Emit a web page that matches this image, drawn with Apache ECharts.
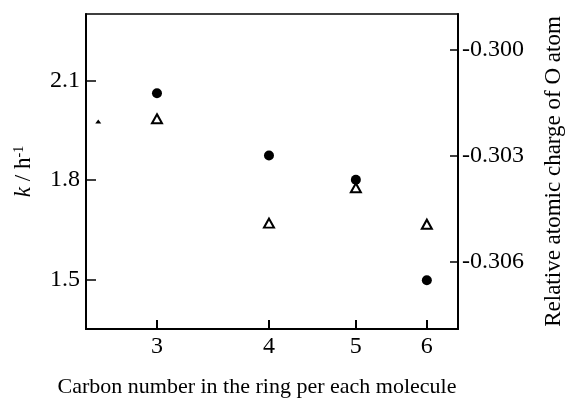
<!DOCTYPE html>
<html>
<head>
    <meta charset="UTF-8">
    <title>k vs carbon number</title>
    <style>
        body, html { margin: 0; padding: 0; background: #fff; }
        #container { width: 573px; height: 403px; }
    </style>
</head>
<body>
<div id="container"></div>
<script src="https://cdn.jsdelivr.net/npm/echarts@6/dist/echarts.min.js"></script>
<script>
    // carbon number (log-spaced axis in the original)
    var carbonNumber = [3, 4, 5, 6];
    var xTicks = [3, 4, 5, 6];

    // rate constant k / h^-1 (filled circles, left axis)
    var rateK = [2.061, 1.873, 1.80, 1.497];
    var kTicks = [1.5, 1.8, 2.1];

    // relative atomic charge of O atom (open triangles, right axis)
    // first point sits at the left border, half hidden
    var chargeX = [2.58, 3, 4, 5, 6];
    var chargeO = [-0.30204, -0.30196, -0.30491, -0.30391, -0.30494];
    var chargeTicks = [-0.306, -0.303, -0.300];

    var FONT = 'Liberation Serif';

    function buildChart() {
        var echart = echarts.init(document.getElementById('container'));

        var circles = [];
        for (var i = 0; i < carbonNumber.length; i++) {
            circles.push([carbonNumber[i], rateK[i]]);
        }
        var triangles = [];
        for (var j = 0; j < chargeX.length; j++) {
            var item = {value: [chargeX[j], chargeO[j]]};
            if (j === 0) {
                // the clipped marker at the frame edge
                item.symbolSize = [6, 4];
                item.itemStyle = {color: '#000', borderWidth: 0};
            }
            triangles.push(item);
        }

        var option = {
            animation: false,
            textStyle: {fontFamily: FONT, color: '#000'},
            grid: {
                left: 86, right: 111, top: 14, bottom: 70,
                show: true, borderColor: '#000', borderWidth: 1.5
            },
            xAxis: {
                type: 'log',
                min: 2.5,
                max: 6.5,
                name: 'Carbon number in the ring per each molecule',
                nameLocation: 'middle',
                nameGap: 47,
                nameTextStyle: {fontFamily: FONT, fontSize: 22, color: '#000', padding: [0, 30, 0, 0]},
                axisLine: {lineStyle: {color: '#000', width: 2}},
                axisTick: {inside: true, length: 9, customValues: xTicks, lineStyle: {color: '#000', width: 2}},
                axisLabel: {customValues: xTicks, margin: 6, fontFamily: FONT, fontSize: 24, color: '#000',
                    formatter: function (v) { return String(Math.round(v)); }},
                splitLine: {show: false},
                minorTick: {show: false}
            },
            yAxis: [{
                type: 'value',
                min: 1.35,
                max: 2.3,
                name: '{i|k} / h{s|-1}',
                nameLocation: 'middle',
                nameRotate: 90,
                nameGap: 50,
                nameTextStyle: {
                    fontFamily: FONT, fontSize: 23, color: '#000',
                    rich: {
                        i: {fontFamily: FONT, fontStyle: 'italic', fontSize: 23},
                        s: {fontFamily: FONT, fontSize: 14, verticalAlign: 'top', padding: [0, 0, 10, 0]}
                    }
                },
                axisLine: {show: true, lineStyle: {color: '#000', width: 2}},
                axisTick: {show: true, inside: true, length: 10, customValues: kTicks, lineStyle: {color: '#000', width: 1.5}},
                axisLabel: {customValues: kTicks, margin: 6, fontFamily: FONT, fontSize: 24, color: '#000',
                    formatter: function (v) { return v.toFixed(1); }},
                splitLine: {show: false}
            }, {
                type: 'value',
                position: 'right',
                min: -0.3079,
                max: -0.2990,
                name: 'Relative atomic charge of O atom',
                nameLocation: 'middle',
                nameRotate: 90,
                nameGap: 84,
                nameTextStyle: {fontFamily: FONT, fontSize: 23, color: '#000'},
                axisLine: {show: true, lineStyle: {color: '#000', width: 2}},
                axisTick: {show: true, inside: true, length: 8, customValues: chargeTicks, lineStyle: {color: '#000', width: 1.5}},
                axisLabel: {customValues: chargeTicks, margin: 4, fontFamily: FONT, fontSize: 24, color: '#000',
                    formatter: function (v) { return v.toFixed(3); }},
                splitLine: {show: false}
            }],
            series: [{
                name: 'k',
                type: 'scatter',
                yAxisIndex: 0,
                symbol: 'circle',
                symbolSize: 10,
                itemStyle: {color: '#000', opacity: 1},
                data: circles
            }, {
                name: 'charge',
                type: 'scatter',
                yAxisIndex: 1,
                symbol: 'triangle',
                symbolSize: [10, 9],
                itemStyle: {color: '#fff', borderColor: '#000', borderWidth: 2, opacity: 1},
                data: triangles
            }]
        };
        echart.setOption(option);
    }

    buildChart();
</script>
</body>
</html>
